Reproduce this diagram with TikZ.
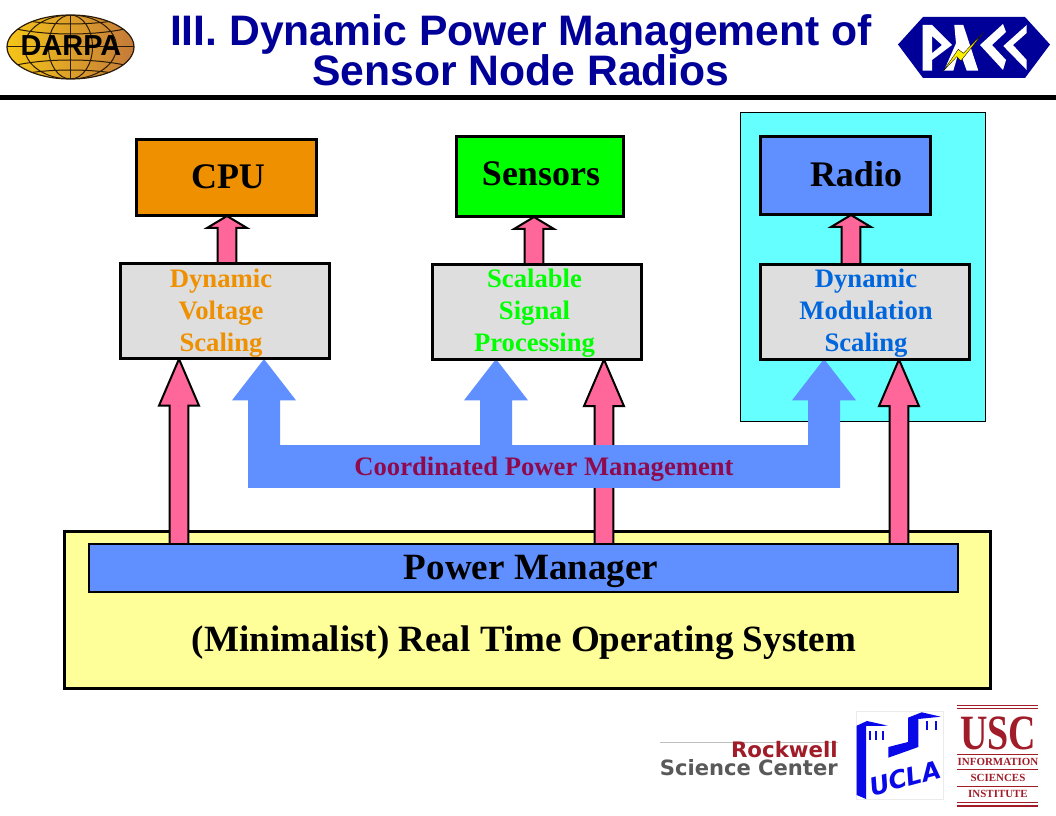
\documentclass[tikz,border=0pt]{standalone}
\usepackage{fontspec}
\setmainfont{Liberation Serif}
\newfontfamily\headfont{Liberation Sans}
\newfontfamily\rockfont{DejaVu Sans}
\usetikzlibrary{calc,backgrounds}
\definecolor{titleblue}{HTML}{000099}
\definecolor{cpuorange}{HTML}{EE9000}
\definecolor{pmblue}{HTML}{6090FF}
\definecolor{modblue}{HTML}{0066DD}
\definecolor{pinkarrow}{HTML}{FF6699}
\definecolor{cpmred}{HTML}{8F0A4C}
\definecolor{uscred}{HTML}{A01C28}
\definecolor{uclablue}{HTML}{0808E8}
\definecolor{panelcyan}{HTML}{66FFFF}
\definecolor{rtosyellow}{HTML}{FFFF99}
\definecolor{globeline}{HTML}{2A1A08}
\definecolor{globeleft}{HTML}{F5C518}
\definecolor{globemid}{HTML}{E8A818}
\definecolor{globeright}{HTML}{C47A3A}
\newcommand{\pinkup}[3]{%
  \draw[pinkarr] let \p1=(#1), \p2=(#2) in
    (\x1-7pt,\y1) -- (\x1-7pt,\y2-#3) -- (\x1-15pt,\y2-#3) -- (\x1,\y2)
    -- (\x1+15pt,\y2-#3) -- (\x1+7pt,\y2-#3) -- (\x1+7pt,\y1);
}
\begin{document}
\begin{tikzpicture}[
    x=0.75pt, y=-0.75pt,
    hwbox/.style={draw=black, line width=2.25pt, outer sep=0pt, rectangle},
    scalebox/.style={hwbox, fill=black!13, minimum width=156.75pt, minimum height=71.25pt},
    hwlbl/.style={font=\fontsize{27}{27}\selectfont\bfseries},
    scalelbl/.style={align=center, inner sep=0pt, font=\fontsize{20}{24}\selectfont\bfseries},
    oslbl/.style={font=\fontsize{27.8}{28}\selectfont\bfseries},
    pinkarr/.style={draw=black, fill=pinkarrow, line width=1.5pt, line join=miter},
    uscrule/.style={uscred, line width=0.5pt},
    usclbl/.style={uscred, inner sep=0pt, font=\fontsize{8.2}{8.2}\selectfont\bfseries},
    globe/.style={globeline, line width=0.75pt}
  ]
    \useasboundingbox (0,0) rectangle (1056,816);

    % --- TITLE ---
    \node[titleblue, align=center, inner sep=0pt, font=\headfont\fontsize{32}{30}\selectfont\bfseries]
        (title) at (521,50) {III. Dynamic Power Management of\\Sensor Node Radios};
    \fill[black] (0,95) rectangle (1056,100);

    % --- BACK PANELS ---
    \begin{scope}[on background layer]
      \node[draw=black, line width=0.6pt, fill=panelcyan, outer sep=0pt, minimum width=183.75pt, minimum height=231.75pt]
          (radiopanel) at (862.5,266.5) {};
      \node[hwbox, fill=rtosyellow, minimum width=694.5pt, minimum height=117.75pt]
          (rtos) at (527,609.5) {};
    \end{scope}

    % --- TOP ROW ---
    \node[hwbox, fill=cpuorange, minimum width=135pt, minimum height=57pt] (cpu) at (226.2,178) {};
    \node[hwbox, fill=green, minimum width=125.25pt, minimum height=60pt] (sensors) at (539.5,177) {};
    \node[hwbox, fill=pmblue, minimum width=127.5pt, minimum height=58.5pt] (radio) at (845,176) {};
    \node[hwlbl] (cpulbl) at (228,177) {CPU};
    \node[hwlbl] (sensorslbl) at (541,174) {Sensors};
    \node[hwlbl] (radiolbl) at (856,174) {Radio};

    % --- SCALING BOXES ---
    \node[scalebox] (volt) at (225,311.5) {};
    \node[scalebox] (sig) at (536.5,312) {};
    \node[scalebox] (mod) at (864.5,312) {};
    \node[scalelbl, cpuorange] (voltlbl) at (221,313) {Dynamic\\Voltage\\Scaling};
    \node[scalelbl, green] (siglbl) at (534.5,313) {Scalable\\Signal\\Processing};
    \node[scalelbl, modblue] (modlbl) at (866,313) {Dynamic\\Modulation\\Scaling};

    % --- POWER MANAGER ---
    \node[draw=black, line width=1.5pt, fill=pmblue, outer sep=0pt, minimum width=651.75pt, minimum height=36pt]
        (pm) at (523.5,568) {};
    \node[oslbl] (pmlbl) at (531,571) {Power Manager};
    \node[oslbl] (oslbl) at (524,643) {(Minimalist) Real Time Operating System};
    \node[cpmred, inner sep=0pt, font=\fontsize{20}{20}\selectfont\bfseries]
        (cpmlbl) at (544,469) {Coordinated Power Management};

    % --- ARROWS (under the boxes) ---
    \coordinate (xcpu) at (227,0);
    \coordinate (xsens) at (534,0);
    \coordinate (xrad) at (851,0);
    \coordinate (xa) at (179,0);
    \coordinate (xb) at (604,0);
    \coordinate (xc) at (899,0);
    \coordinate (ca) at (264,0);
    \coordinate (cb) at (496,0);
    \coordinate (cc) at (824,0);
    \begin{scope}[on background layer]
      \pinkup{volt.north -| xcpu}{cpu.south -| xcpu}{9pt}
      \pinkup{sig.north -| xsens}{sensors.south -| xsens}{9pt}
      \pinkup{mod.north -| xrad}{radio.south -| xrad}{9pt}
      \pinkup{pm.north -| xa}{volt.south -| xa}{35pt}
      \pinkup{pm.north -| xb}{sig.south -| xb}{35pt}
      \pinkup{pm.north -| xc}{mod.south -| xc}{35pt}
      % coordinated arrow, in front of the pink ones
      \fill[pmblue] let \p1=(volt.south -| ca), \p2=(sig.south -| cb), \p3=(mod.south -| cc), \p4=(0,466.5) in
        (\x1-12pt,\y4-16pt) -- (\x1-12pt,\y1-31pt) -- (\x1-24pt,\y1-31pt) -- (\x1,\y1) -- (\x1+24pt,\y1-31pt)
        -- (\x1+12pt,\y1-31pt) -- (\x1+12pt,\y4+16pt) -- (\x2-12pt,\y4+16pt) -- (\x2-12pt,\y1-31pt)
        -- (\x2-24pt,\y1-31pt) -- (\x2,\y1) -- (\x2+24pt,\y1-31pt) -- (\x2+12pt,\y1-31pt) -- (\x2+12pt,\y4+16pt)
        -- (\x3-12pt,\y4+16pt) -- (\x3-12pt,\y1-31pt) -- (\x3-24pt,\y1-31pt) -- (\x3,\y1) -- (\x3+24pt,\y1-31pt)
        -- (\x3+12pt,\y1-31pt) -- (\x3+12pt,\y4-16pt) -- cycle;
    \end{scope}

    % --- DARPA LOGO ---
    \begin{scope}
      \clip (70.5,47) ellipse [x radius=63.5, y radius=32];
      \shade[left color=globeleft, middle color=globemid, right color=globeright] (7,15) rectangle (134,79);
      \foreach \r in {22,46} {
        \draw[globe] (70.5,47) ellipse [x radius=\r, y radius=32];
      }
      \draw[globe] (70.5,15) -- (70.5,79) (7,47) -- (134,47);
      \draw[globe] (12,28) .. controls (45,36) and (96,36) .. (129,28);
      \draw[globe] (12,66) .. controls (45,58) and (96,58) .. (129,66);
      \draw[globe] (28,21) .. controls (55,25) and (86,25) .. (113,21);
      \draw[globe] (28,73) .. controls (55,69) and (86,69) .. (113,73);
    \end{scope}
    \draw[globeline, line width=0.9pt] (70.5,47) ellipse [x radius=63.5, y radius=32];
    \node[inner sep=0pt, font=\headfont\fontsize{21.7}{21}\selectfont\bfseries] (darpa) at (71,46) {DARPA};

    % --- PACC LOGO ---
    \fill[titleblue] (898,44.5) -- (923,17) -- (1025,17) -- (1050,44.5) -- (1025,78) -- (923,78) -- cycle;
    \fill[white, even odd rule] (922.7,25) -- (932,25) -- (952,45) -- (932,60) -- (932,70.7) -- (922.7,70.7) -- cycle
        (932,36) -- (942,45) -- (932,53.3) -- cycle;
    \fill[white] (954.3,25) -- (963.3,25) -- (978.3,70.7) -- (966.7,70.7) -- (959.3,50) -- (953.3,70.7) -- (944,70.7) -- (956,43.3) -- cycle;
    \fill[white] (1003,24) -- (1006,32) -- (992,45) -- (1006,60) -- (1003,70) -- (980,45) -- cycle;
    \fill[white] (1026.7,25) -- (1026.7,33) -- (1013,45) -- (1026.7,60) -- (1026.7,70) -- (1003.3,46) -- cycle;
    \draw[black, line width=0.25pt, fill=yellow] (983.3,32.7) -- (963.3,53.3) -- (958.3,49.3) -- (942.7,71.7) -- (956.7,56.7) -- (961,60.7) -- cycle;

    % --- ROCKWELL ---
    \draw[black!25, line width=0.5pt] (660,742) -- (838,742);
    \node[anchor=east, inner sep=0pt, uscred, font=\rockfont\fontsize{16}{16}\selectfont\bfseries] (rockwell) at (838,750) {Rockwell};
    \node[anchor=east, inner sep=0pt, black!65, font=\rockfont\fontsize{15.8}{16}\selectfont\bfseries] (rsc) at (838,768) {Science Center};

    % --- UCLA ---
    \draw[black!8, line width=0.5pt] (856,711) rectangle (943,799);
    \fill[uclablue] (856.7,725.7) -- (867,721) -- (888,725.7) -- (866,726) -- (866,799) -- (856.7,795) -- cycle;
    \fill[uclablue] (888.3,747) -- (908,742) -- (908,717.7) -- (921.7,712.3) -- (940.7,716.7) -- (918.3,719) -- (918.3,747) -- (888.3,757.7) -- cycle;
    \foreach \wx in {870,876,883} {
      \draw[uclablue, line width=0.9pt] (\wx,731) -- (\wx,740);
    }
    \foreach \wx in {927,936} {
      \draw[uclablue, line width=0.9pt] (\wx,721) -- (\wx,730);
    }
    \node[uclablue, rotate=15, inner sep=0pt, font=\rockfont\fontsize{18.5}{19}\selectfont\bfseries\itshape] (ucla) at (905,778) {UCLA};

    % --- USC ---
    \foreach \uy in {705,754,769.3,786} {
      \draw[uscrule] (957,\uy) -- (1038,\uy);
    }
    \foreach \uy in {708.5,802.5,806} {
      \draw[uscred, line width=1.2pt] (957,\uy) -- (1038,\uy);
    }
    \node[uscred, inner sep=0pt, xscale=0.77, font=\fontsize{37}{37}\selectfont\bfseries] (usc) at (998,733.5) {USC};
    \node[usclbl] (uscinfo) at (998,762) {INFORMATION};
    \node[usclbl] (uscsci) at (998,777.7) {SCIENCES};
    \node[usclbl] (uscinst) at (998,794) {INSTITUTE};
\end{tikzpicture}
\end{document}
